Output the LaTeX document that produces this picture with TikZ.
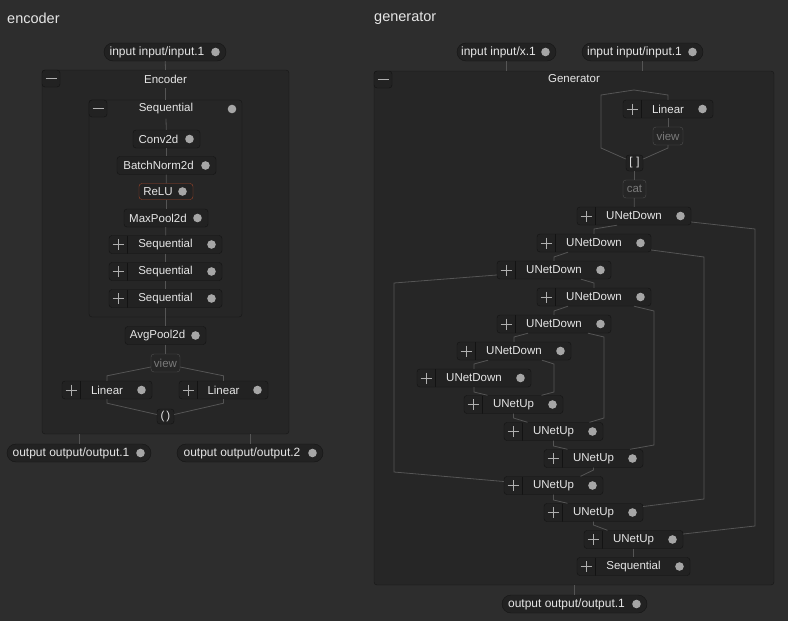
\documentclass[tikz,border=0pt]{standalone}
\usepackage{fontspec}
\setmainfont{Liberation Sans}
\usetikzlibrary{positioning,calc}

\definecolor{bgc}{HTML}{2D2D2D}
\definecolor{clusterfill}{HTML}{262626}
\definecolor{clusterline}{HTML}{161616}
\definecolor{nodefill}{HTML}{222222}
\definecolor{nodeline}{HTML}{131313}
\definecolor{pillline}{HTML}{151515}
\definecolor{txt}{HTML}{E6E6E6}
\definecolor{dotc}{HTML}{A6A6A6}
\definecolor{plusc}{HTML}{B0B0B0}
\definecolor{edgec}{HTML}{555555}
\definecolor{ghostline}{HTML}{505050}
\definecolor{ghosttxt}{HTML}{7A7A7A}
\definecolor{reluline}{HTML}{A0452A}

\newcommand{\padr}{\kern16pt}
% minus box in the top left corner of a cluster
\newcommand{\minusbox}[2]{%
  \draw[nodeline, fill=nodefill, rounded corners=3pt] (#1,#2) rectangle ++(18,17);
  \draw[plusc, line width=0.8pt] (#1+3.5,#2+8.5) -- (#1+14.5,#2+8.5);}

\begin{document}
\begin{tikzpicture}[x=1pt,y=-1pt,
  op/.style={draw=nodeline, fill=nodefill, rounded corners=3pt, minimum height=18pt,
    inner sep=0pt, text=txt, font=\fontsize{11.5}{13}\selectfont},
  opdot/.style={op, path picture={
    \fill[dotc] ([xshift=-10.5pt]path picture bounding box.east) circle (4.3pt);}},
  opplus/.style={op, path picture={
    \draw[nodeline] ([xshift=18pt]path picture bounding box.north west) -- ([xshift=18pt]path picture bounding box.south west);
    \draw[plusc, line width=0.8pt] ([xshift=3.5pt]path picture bounding box.west) -- ([xshift=14.5pt]path picture bounding box.west)
      ([xshift=9pt,yshift=5.5pt]path picture bounding box.west) -- ([xshift=9pt,yshift=-5.5pt]path picture bounding box.west);
    \fill[dotc] ([xshift=-10.5pt]path picture bounding box.east) circle (4.3pt);}},
  pill/.style={opdot, rounded corners=9pt, draw=pillline, font=\fontsize{12}{14}\selectfont},
  ghost/.style={draw=ghostline, rounded corners=3pt, minimum height=18pt, inner sep=0pt,
    text=ghosttxt, font=\fontsize{11.5}{13}\selectfont},
  cluster/.style={draw=clusterline, fill=clusterfill, rounded corners=3pt, inner sep=0pt},
  title/.style={text=txt, font=\fontsize{11.5}{13}\selectfont, inner sep=0pt},
  heading/.style={anchor=west, text=txt, inner sep=0pt, font=\fontsize{14.5}{16}\selectfont},
  edge/.style={draw=edgec, line width=0.8pt}]

\useasboundingbox (0,0) rectangle (788,621);
\fill[bgc] (0,0) rectangle (788,621);

%% encoder
\node[heading] (enclabel) at (7,18) {encoder};
\node[pill, minimum width=122pt] (encin) at (165,52) {input input/input.1\padr};
\node[cluster, minimum width=247pt, minimum height=364pt] (encbox) at (165.5,252) {};
\node[title] (enctitle) at (165.5,79) {Encoder};
\minusbox{42}{70}
\node[cluster, minimum width=153pt, minimum height=217pt] (seqbox) at (165.5,208.5) {};
\node[title] (seqtitle) at (166,109) {Sequential};
\minusbox{89}{100}
\fill[dotc] (232,109) circle (4.3pt);

\node[opdot, minimum width=67pt] (conv) at (166.5,139) {Conv2d\padr};
\node[opdot, minimum width=99pt] (bn) at (166.5,165.5) {BatchNorm2d\padr};
\node[opdot, draw=reluline, minimum width=54pt, minimum height=16pt] (relu) at (166,191.5) {ReLU\padr};
\node[opdot, minimum width=84pt] (maxpool) at (166,218) {MaxPool2d\padr};
\node[opplus, minimum width=113pt] (seqa) at (165.5,244.5) {Sequential};
\node[opplus, minimum width=113pt] (seqb) at (165.5,271.5) {Sequential};
\node[opplus, minimum width=113pt] (seqc) at (165.5,298.5) {Sequential};
\node[opdot, minimum width=81pt] (avgpool) at (165.5,335.5) {AvgPool2d\padr};
\node[ghost, minimum width=29pt] (encview) at (165.5,363) {view};
\node[opplus, minimum width=90pt] (lina) at (107,390) {Linear};
\node[opplus, minimum width=89pt] (linb) at (223.5,390) {Linear};
\node[op, minimum width=17pt, minimum height=15pt] (tup) at (165.5,416.5) {(\,)};
\node[pill, minimum width=144pt] (outa) at (79,453) {output output/output.1\padr};
\node[pill, minimum width=146pt] (outb) at (250,453) {output output/output.2\padr};

\draw[edge] (encin) -- (encbox.north);
\draw[edge] ([yshift=-5pt]enctitle.south) -- (seqbox.north);
\draw[edge] ([yshift=-4pt]seqtitle.south) -- (conv);
\draw[edge] (conv) -- (bn);
\draw[edge] (bn) -- (relu);
\draw[edge] (relu) -- (maxpool);
\draw[edge] (maxpool) -- (seqa);
\draw[edge] (seqa) -- (seqb);
\draw[edge] (seqb) -- (seqc);
\draw[edge] (seqc) -- (seqbox.south);
\draw[edge] (seqbox.south) -- (avgpool);
\draw[edge] (avgpool) -- (encview);
\draw[edge] ([yshift=-4pt]encview.west) -- ([yshift=5pt]lina.north) -- (lina.north);
\draw[edge] ([yshift=-4pt]encview.east) -- ([yshift=5pt]linb.north) -- (linb.north);
\draw[edge] (lina.south) -- ([yshift=-4pt]lina.south) -- ([yshift=2pt]tup.west);
\draw[edge] (linb.south) -- ([yshift=-4pt]linb.south) -- ([yshift=2pt]tup.east);
\draw[edge] (outa.north) -- (outa.north |- encbox.south);
\draw[edge] (outb.north) -- (outb.north |- encbox.south);

%% generator
\node[heading] (genlabel) at (374,18) {generator};
\node[pill, minimum width=99pt] (gina) at (506.5,52) {input input/x.1\padr};
\node[pill, minimum width=121pt] (ginb) at (642.5,52) {input input/input.1\padr};
\node[cluster, minimum width=400pt, minimum height=514pt] (genbox) at (574,328) {};
\node[title] (gentitle) at (574,79) {Generator};
\minusbox{374}{71}

\node[opplus, minimum width=90pt] (glin) at (668,109) {Linear};
\node[ghost, minimum width=30pt] (gview) at (668,136) {view};
\node[op, minimum width=17pt, minimum height=16pt] (glist) at (634.5,163) {[\,\,]};
\node[ghost, minimum width=23pt] (gcat) at (634.5,189) {cat};
\node[opplus, minimum width=114pt] (dn0) at (634,216) {UNetDown};
\node[opplus, minimum width=114pt] (dn1) at (594,243) {UNetDown};
\node[opplus, minimum width=114pt] (dn2) at (554,270) {UNetDown};
\node[opplus, minimum width=114pt] (dn3) at (594,297) {UNetDown};
\node[opplus, minimum width=114pt] (dn4) at (554,324) {UNetDown};
\node[opplus, minimum width=114pt] (dn5) at (514,351) {UNetDown};
\node[opplus, minimum width=114pt] (dn6) at (474,378) {UNetDown};
\node[opplus, minimum width=99pt] (up0) at (513.5,404.5) {UNetUp};
\node[opplus, minimum width=99pt] (up1) at (553.5,431.5) {UNetUp};
\node[opplus, minimum width=99pt] (up2) at (593.5,458.5) {UNetUp};
\node[opplus, minimum width=99pt] (up3) at (553.5,485.5) {UNetUp};
\node[opplus, minimum width=99pt] (up4) at (593.5,512.5) {UNetUp};
\node[opplus, minimum width=99pt] (up5) at (633.5,539.5) {UNetUp};
\node[opplus, minimum width=113pt] (gseq) at (633.5,566.5) {Sequential};
\node[pill, minimum width=145pt] (gout) at (574.5,604) {output output/output.1\padr};

\draw[edge] (gina) -- (gina.south |- genbox.north);
\draw[edge] (ginb) -- (ginb.south |- genbox.north);
\draw[edge] (glin.north) -- (668,95) -- (634,90) -- (601,95) -- (601,148) -- ([yshift=4pt]glist.west);
\draw[edge] (glin) -- (gview);
\draw[edge] (gview.south) -- (668,148) -- ([yshift=4pt]glist.east);
\draw[edge] (glist) -- (gcat);
\draw[edge] (gcat) -- (dn0);
% down path
\draw[edge] ([xshift=-17pt]dn0.south) -- (594,229) -- (dn1.north);
\draw[edge] ([xshift=-26pt]dn1.south) -- (554,257) -- (dn2.north);
\draw[edge] ([xshift=27pt]dn2.south) -- (594,283) -- (dn3.north);
\draw[edge] ([xshift=-26pt]dn3.south) -- (554,311) -- (dn4.north);
\draw[edge] ([xshift=-26pt]dn4.south) -- (514,337) -- (dn5.north);
\draw[edge] ([xshift=-26pt]dn5.south) -- (474,364) -- (dn6.north);
\draw[edge] (dn6.south) -- (474,392) -- ([xshift=-26pt]up0.north);
% up path
\draw[edge] (up0.south) -- (513.5,418) -- ([xshift=-26pt]up1.north);
\draw[edge] (up1.south) -- (553.5,446) -- ([xshift=-26pt]up2.north);
\draw[edge] (up2.south) -- (593.5,470) -- ([xshift=27pt]up3.north);
\draw[edge] (up3.south) -- (553.5,500) -- ([xshift=-26pt]up4.north);
\draw[edge] (up4.south) -- (593.5,525) -- ([xshift=-26pt]up5.north);
\draw[edge] (up5) -- (gseq);
\draw[edge] (gout.north) -- (gout.north |- genbox.south);
% skip connections
\draw[edge] ([yshift=-6pt]dn0.east) -- (755,229) -- (755,526) -- ([yshift=5.5pt]up5.east);
\draw[edge] ([yshift=-7pt]dn1.east) -- (704,257) -- (704,499) -- ([yshift=6pt]up4.east);
\draw[edge] ([yshift=-5pt]dn2.west) -- (394,283) -- (394,472) -- ([yshift=4pt]up3.west);
\draw[edge] ([xshift=40pt]dn3.south) -- (654,311) -- (654,445) -- ([xshift=36.5pt]up2.north);
\draw[edge] ([xshift=34pt]dn4.south) -- (604,337) -- (604,418) -- ([xshift=36pt]up1.north);
\draw[edge] ([xshift=28pt]dn5.south) -- (554,364) -- (554,392) -- ([xshift=28pt]up0.north);
\end{tikzpicture}
\end{document}
